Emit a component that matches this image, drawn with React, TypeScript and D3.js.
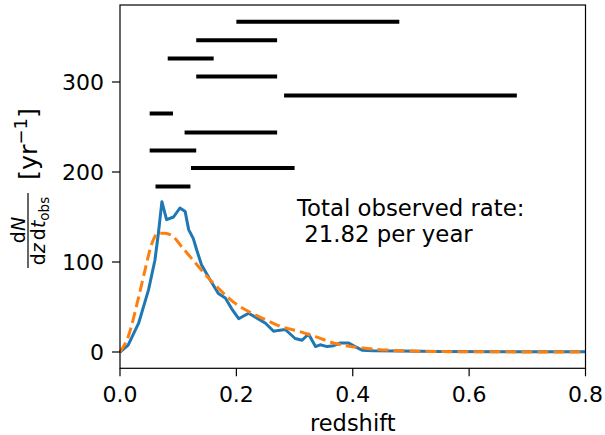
import * as d3 from "d3";
import { useEffect, useRef } from "react";

// blue curve (histogram-ish rate)
const blueZ = [0, 0.014, 0.032, 0.049, 0.06, 0.066, 0.072, 0.08, 0.092, 0.103, 0.112, 0.118, 0.126, 0.132, 0.14, 0.155, 0.169, 0.181, 0.192, 0.204, 0.221, 0.232, 0.25, 0.264, 0.272, 0.284, 0.301, 0.313, 0.324, 0.336, 0.344, 0.356, 0.367, 0.379, 0.393, 0.404, 0.416, 0.435, 0.48, 0.55, 0.8];
const blueRate = [0, 7.7, 32, 69, 102, 132, 167, 147, 150, 160, 156, 136, 126, 113, 97, 80, 65, 60, 48, 37, 43, 39, 32, 23, 24, 25, 15, 13, 20, 6, 8, 6, 7, 10, 10, 6, 2, 1.5, 1, 0.5, 0.3];

// orange dashed curve (smooth model)
const orangeZ = [0, 0.014, 0.032, 0.043, 0.054, 0.066, 0.077, 0.092, 0.106, 0.123, 0.14, 0.158, 0.175, 0.198, 0.221, 0.25, 0.278, 0.307, 0.336, 0.367, 0.425, 0.48, 0.55, 0.65, 0.8];
const orangeRate = [0, 17, 61, 91, 119, 132, 132, 128, 117, 104, 91, 78, 67, 54, 45, 36, 28, 23, 17, 10, 4, 1.5, 0.5, 0.2, 0];

// horizontal range bars
const barStart = [0.2, 0.131, 0.082, 0.131, 0.282, 0.051, 0.111, 0.051, 0.122, 0.061];
const barEnd = [0.48, 0.27, 0.161, 0.27, 0.682, 0.091, 0.27, 0.131, 0.3, 0.121];
const barLevel = [367, 346.5, 326, 306, 285, 265, 244, 224, 204.5, 184];

const xTicks = [0, 0.2, 0.4, 0.6, 0.8];
const yTicks = [0, 100, 200, 300];

const FONT = "DejaVu Sans, sans-serif";

export default function App() {
  const ref = useRef<SVGSVGElement>(null);

  useEffect(() => {
    const svg = d3.select(ref.current);
    svg.selectAll("*").remove();

    const width = 605;
    const height = 435;
    const left = 120, right = 585.5, top = 5, bottom = 368.3;

    svg.attr("width", width).attr("height", height);

    const x = d3.scaleLinear().domain([0, 0.8]).range([left, right]);
    const y = d3.scaleLinear().domain([0, 300]).range([352, 82]);

    // range bars
    svg.append("g")
      .selectAll("line")
      .data(barStart)
      .join("line")
      .attr("x1", d => x(d))
      .attr("x2", (d, i) => x(barEnd[i]))
      .attr("y1", (d, i) => y(barLevel[i]))
      .attr("y2", (d, i) => y(barLevel[i]))
      .attr("stroke", "black")
      .attr("stroke-width", 4);

    const line = d3.line<[number, number]>()
      .x(d => x(d[0]))
      .y(d => y(d[1]));

    svg.append("path")
      .attr("d", line(blueZ.map((z, i) => [z, blueRate[i]])))
      .attr("fill", "none")
      .attr("stroke", "#1f77b4")
      .attr("stroke-width", 3)
      .attr("stroke-linejoin", "round");

    svg.append("path")
      .attr("d", line.curve(d3.curveMonotoneX)(orangeZ.map((z, i) => [z, orangeRate[i]])))
      .attr("fill", "none")
      .attr("stroke", "#ff7f0e")
      .attr("stroke-width", 3)
      .attr("stroke-dasharray", "11,5");

    // frame
    svg.append("rect")
      .attr("x", left)
      .attr("y", top)
      .attr("width", right - left)
      .attr("height", bottom - top)
      .attr("fill", "none")
      .attr("stroke", "black")
      .attr("stroke-width", 1.2);

    // x ticks
    const xt = svg.append("g");
    xt.selectAll("line")
      .data(xTicks)
      .join("line")
      .attr("x1", d => x(d)).attr("x2", d => x(d))
      .attr("y1", bottom).attr("y2", bottom + 8)
      .attr("stroke", "black").attr("stroke-width", 1.2);
    xt.selectAll("text")
      .data(xTicks)
      .join("text")
      .attr("x", d => x(d))
      .attr("y", 401.7)
      .attr("text-anchor", "middle")
      .style("font-family", FONT)
      .style("font-size", "22px")
      .text(d => d.toFixed(1));

    // y ticks
    const yt = svg.append("g");
    yt.selectAll("line")
      .data(yTicks)
      .join("line")
      .attr("x1", left - 8).attr("x2", left)
      .attr("y1", d => y(d)).attr("y2", d => y(d))
      .attr("stroke", "black").attr("stroke-width", 1.2);
    yt.selectAll("text")
      .data(yTicks)
      .join("text")
      .attr("x", 104)
      .attr("y", d => y(d) + 8)
      .attr("text-anchor", "end")
      .style("font-family", FONT)
      .style("font-size", "22px")
      .text(d => String(d));

    // x label
    svg.append("text")
      .attr("x", (left + right) / 2)
      .attr("y", 431)
      .attr("text-anchor", "middle")
      .style("font-family", FONT)
      .style("font-size", "22.5px")
      .text("redshift");

    // y label (rotated fraction + units)
    const yl = svg.append("g")
      .attr("transform", "translate(28,230) rotate(-90)")
      .style("font-family", FONT);

    const num = yl.append("text")
      .attr("x", 0).attr("y", -3.5)
      .attr("text-anchor", "middle")
      .style("font-size", "19px");
    num.append("tspan").text("d");
    num.append("tspan").style("font-style", "italic").text("N");

    const den = yl.append("text")
      .attr("x", -1).attr("y", 16.5)
      .attr("text-anchor", "middle")
      .style("font-size", "19px");
    den.append("tspan").text("d");
    den.append("tspan").style("font-style", "italic").text("z");
    den.append("tspan").attr("dx", 3).text("d");
    den.append("tspan").style("font-style", "italic").text("t");
    den.append("tspan").attr("dy", 4).style("font-size", "13.5px").text("obs");

    yl.append("line")
      .attr("x1", -38).attr("x2", 37)
      .attr("y1", 0).attr("y2", 0)
      .attr("stroke", "black")
      .attr("stroke-width", 1.2);

    const unit = yl.append("text")
      .attr("x", 50).attr("y", 8.6)
      .style("font-size", "25.5px");
    unit.append("tspan").text("[yr");
    unit.append("tspan").attr("dy", -10).style("font-size", "18px").text("\u22121");
    unit.append("tspan").attr("dy", 10).text("]");

    // annotation
    const ann = svg.append("text")
      .style("font-family", FONT)
      .style("font-size", "22.8px");
    ann.append("tspan").attr("x", 297).attr("y", 216).text("Total observed rate:");
    ann.append("tspan").attr("x", 297).attr("y", 241.7).text("\u00a021.82 per year");

    return () => {
      svg.selectAll("*").remove();
    };
  }, []);

  return (
    <svg ref={ref} style={{ position: "absolute", left: 0, top: 0, background: "white" }}></svg>
  );
}
